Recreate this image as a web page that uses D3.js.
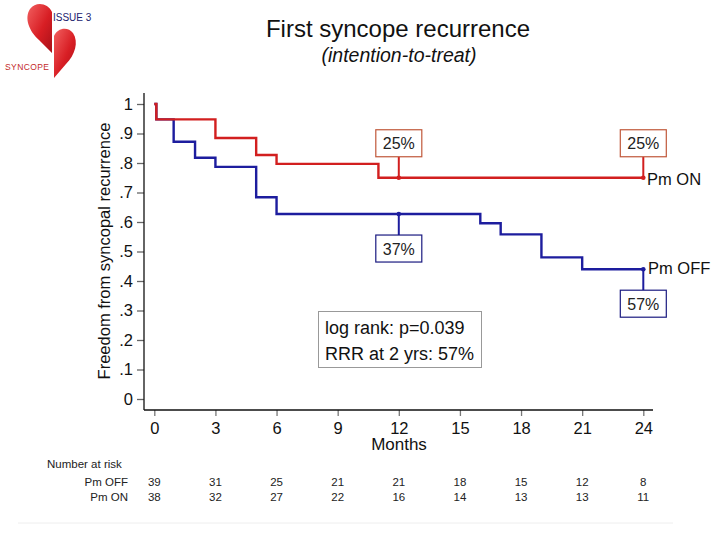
<!DOCTYPE html>
<html>
<head>
<meta charset="utf-8">
<script src="https://cdn.jsdelivr.net/npm/d3@7"></script>
<style>
  body { margin: 0; background: #fff; }
  svg { display: block; font-family: "Liberation Sans", Arial, sans-serif; }
</style>
</head>
<body>
<svg id="chart" width="720" height="540"></svg>
<script>
// Kaplan-Meier step points
var onTimes  = [0, 0.1, 3, 5, 6, 11, 24]
var onSurv   = [1, 0.948, 0.885, 0.827, 0.797, 0.75, 0.75]
var offTimes = [0, 0.1, 0.95, 2, 3, 5, 6, 16, 17, 19, 21, 24]
var offSurv  = [1, 0.948, 0.872, 0.818, 0.787, 0.684, 0.627, 0.596, 0.558, 0.48, 0.44, 0.44]

var monthTicks = [0, 3, 6, 9, 12, 15, 18, 21, 24]
var survTicks  = [0, .1, .2, .3, .4, .5, .6, .7, .8, .9, 1]
var survTickLabels = ['0', '.1', '.2', '.3', '.4', '.5', '.6', '.7', '.8', '.9', '1']

var riskOff = [39, 31, 25, 21, 21, 18, 15, 12, 8]
var riskOn  = [38, 32, 27, 22, 16, 14, 13, 13, 11]

// percent call-outs: [month, series, label]
var callouts = [
  { month: 12, series: 'on',  label: '25%' },
  { month: 24, series: 'on',  label: '25%' },
  { month: 12, series: 'off', label: '37%' },
  { month: 24, series: 'off', label: '57%' }
]

var RED = '#d21f1f'
  , BLUE = '#1d1d9e'

var svg = d3.select('#chart')

var x = d3.scaleLinear().domain([0, 24]).range([154.3, 643.3])
var y = d3.scaleLinear().domain([0, 1]).range([399, 104])

function survAt(times, surv, t) {
  var v = surv[0]
  times.forEach(function (tt, i) { if (tt <= t) v = surv[i] })
  return v
}

// ---- logo
var defs = svg.append('defs')
var grad = defs.append('linearGradient').attr('id', 'heart').attr('x1', 0).attr('y1', 0).attr('x2', 1).attr('y2', 1)
grad.append('stop').attr('offset', '0%').attr('stop-color', '#f26060')
grad.append('stop').attr('offset', '55%').attr('stop-color', '#d81e24')
grad.append('stop').attr('offset', '100%').attr('stop-color', '#a81018')

var logo = svg.append('g')
logo.append('path')
    .attr('d', 'M52,12 C48,3 36,1 30,9 C24,18 29,31 39,40 L52,53 Z')
    .attr('fill', 'url(#heart)')
logo.append('path')
    .attr('d', 'M54,36 C57,28 68,26 73,33 C79,42 75,55 66,64 L54,78 Z')
    .attr('fill', 'url(#heart)')
logo.append('text').attr('x', 53).attr('y', 21)
    .attr('font-size', 10).attr('fill', '#22226e').text('ISSUE 3')
logo.append('text').attr('x', 5).attr('y', 70)
    .attr('font-size', 8.5).attr('letter-spacing', 0.4).attr('fill', '#c42a2a').text('SYNCOPE')

// ---- titles
svg.append('text').attr('x', 398).attr('y', 37).attr('text-anchor', 'middle')
   .attr('font-size', 24).attr('fill', '#111').text('First syncope recurrence')
svg.append('text').attr('x', 399).attr('y', 62).attr('text-anchor', 'middle')
   .attr('font-size', 19.5).attr('font-style', 'italic').attr('fill', '#111').text('(intention-to-treat)')

// ---- axes
var yAxis = d3.axisLeft(y).tickValues(survTicks).tickSize(7).tickPadding(4)
              .tickFormat(function (d, i) { return survTickLabels[i] })
var gy = svg.append('g').attr('transform', 'translate(144,0)').call(yAxis)
gy.select('.domain').remove()
gy.selectAll('.tick line').attr('stroke', '#666').attr('stroke-width', 1.3)
gy.selectAll('.tick text').attr('font-size', 16.5).attr('fill', '#111')
   .attr('font-family', '"Liberation Sans", Arial, sans-serif')

var xAxis = d3.axisBottom(x).tickValues(monthTicks).tickSize(6).tickPadding(6)
var gx = svg.append('g').attr('transform', 'translate(0,410)').call(xAxis)
gx.select('.domain').remove()
gx.selectAll('.tick line').attr('stroke', '#777').attr('stroke-width', 1.3)
gx.selectAll('.tick text').attr('font-size', 16.5).attr('fill', '#111')
   .attr('font-family', '"Liberation Sans", Arial, sans-serif')

svg.append('line').attr('x1', 144).attr('x2', 144).attr('y1', 93).attr('y2', 410)
   .attr('stroke', '#111').attr('stroke-width', 1.3)
svg.append('line').attr('x1', 144).attr('x2', 653).attr('y1', 410).attr('y2', 410)
   .attr('stroke', '#111').attr('stroke-width', 1.3)

svg.append('text').attr('x', 399).attr('y', 450).attr('text-anchor', 'middle')
   .attr('font-size', 17).attr('fill', '#111').text('Months')

svg.append('text')
   .attr('transform', 'translate(110,251) rotate(-90)')
   .attr('text-anchor', 'middle').attr('font-size', 16.5).attr('fill', '#111')
   .text('Freedom from syncopal recurrence')

// ---- curves
var line = d3.line()
             .x(function (d) { return x(d[0]) })
             .y(function (d) { return y(d[1]) })
             .curve(d3.curveStepAfter)

svg.append('path').datum(d3.zip(offTimes, offSurv)).attr('d', line)
   .attr('fill', 'none').attr('stroke', BLUE).attr('stroke-width', 2.4)
svg.append('path').datum(d3.zip(onTimes, onSurv)).attr('d', line)
   .attr('fill', 'none').attr('stroke', RED).attr('stroke-width', 2.4)

// ---- call-outs
callouts.forEach(function (c) {
  var isOn = c.series === 'on'
  var v = isOn ? survAt(onTimes, onSurv, c.month) : survAt(offTimes, offSurv, c.month)
  var px = x(c.month), py = y(v)
  var col = isOn ? RED : BLUE
  var boxTop = isOn ? py - 48 : py + 21
  var boxH = 27, boxW = 46
  var lineEnd = isOn ? boxTop + boxH : boxTop

  svg.append('line').attr('x1', px).attr('x2', px).attr('y1', py).attr('y2', lineEnd)
     .attr('stroke', col).attr('stroke-width', 2)
  svg.append('circle').attr('cx', px).attr('cy', py).attr('r', 2.3).attr('fill', col)
  svg.append('rect').attr('x', px - boxW / 2).attr('y', boxTop).attr('width', boxW).attr('height', boxH)
     .attr('fill', '#fff').attr('stroke', isOn ? '#c0583a' : '#1a1a80').attr('stroke-width', 1.2)
  svg.append('text').attr('x', px).attr('y', boxTop + 19.5).attr('text-anchor', 'middle')
     .attr('font-size', 16).attr('fill', '#222').text(c.label)
})

svg.append('text').attr('x', 647).attr('y', 185)
   .attr('font-size', 16.5).attr('fill', '#111').text('Pm ON')
svg.append('text').attr('x', 648).attr('y', 274)
   .attr('font-size', 16.5).attr('fill', '#111').text('Pm OFF')

// ---- stats box
svg.append('rect').attr('x', 318.5).attr('y', 311.5).attr('width', 163).attr('height', 56)
   .attr('fill', '#fff').attr('stroke', '#999').attr('stroke-width', 1)
svg.append('text').attr('x', 325).attr('y', 334).attr('font-size', 18).attr('fill', '#111')
   .text('log rank: p=0.039')
svg.append('text').attr('x', 325).attr('y', 360).attr('font-size', 18).attr('fill', '#111')
   .text('RRR at 2 yrs: 57%')

// ---- number at risk
svg.append('text').attr('x', 47).attr('y', 468).attr('font-size', 11.5).attr('fill', '#222')
   .text('Number at risk')
var rows = [
  { name: 'Pm OFF', values: riskOff, y: 486 },
  { name: 'Pm ON',  values: riskOn,  y: 501 }
]
rows.forEach(function (r) {
  svg.append('text').attr('x', 128).attr('y', r.y).attr('text-anchor', 'end')
     .attr('font-size', 11.5).attr('fill', '#222').text(r.name)
  svg.selectAll(null).data(r.values).enter().append('text')
     .attr('x', function (d, i) { return x(monthTicks[i]) })
     .attr('y', r.y).attr('text-anchor', 'middle')
     .attr('font-size', 11.5).attr('fill', '#222')
     .text(function (d) { return d })
})

svg.append('line').attr('x1', 18).attr('x2', 673).attr('y1', 523).attr('y2', 523)
   .attr('stroke', '#eee').attr('stroke-width', 1)
</script>
</body>
</html>
